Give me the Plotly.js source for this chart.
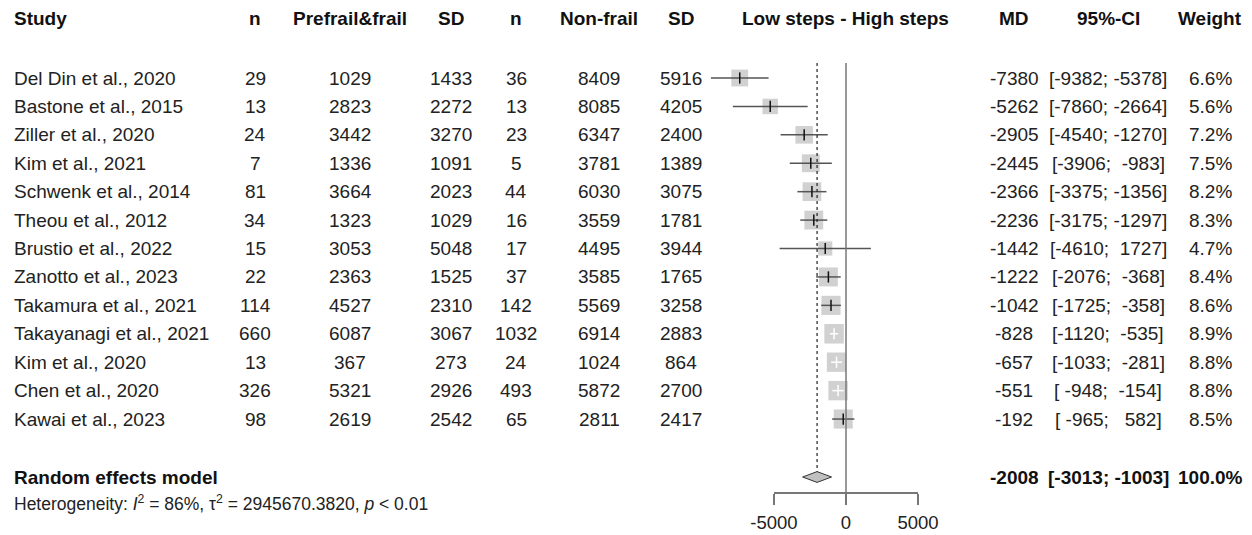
<!DOCTYPE html>
<html>
<head>
<meta charset="utf-8">
<script src="https://cdn.plot.ly/plotly-3.0.1.min.js"></script>
<style>html,body{margin:0;padding:0;background:#fff;}#chart{width:1252px;height:535px;}</style>
</head>
<body>
<div id="chart"></div>
<script>
// ---- data ----
const studies = ["Del Din et al., 2020","Bastone et al., 2015","Ziller et al., 2020","Kim et al., 2021","Schwenk et al., 2014","Theou et al., 2012","Brustio et al., 2022","Zanotto et al., 2023","Takamura et al., 2021","Takayanagi et al., 2021","Kim et al., 2020","Chen et al., 2020","Kawai et al., 2023"];
const nFrail    = [29,13,24,7,81,34,15,22,114,660,13,326,98];
const meanFrail = [1029,2823,3442,1336,3664,1323,3053,2363,4527,6087,367,5321,2619];
const sdFrail   = [1433,2272,3270,1091,2023,1029,5048,1525,2310,3067,273,2926,2542];
const nNon      = [36,13,23,5,44,16,17,37,142,1032,24,493,65];
const meanNon   = [8409,8085,6347,3781,6030,3559,4495,3585,5569,6914,1024,5872,2811];
const sdNon     = [5916,4205,2400,1389,3075,1781,3944,1765,3258,2883,864,2700,2417];
const md        = [-7380,-5262,-2905,-2445,-2366,-2236,-1442,-1222,-1042,-828,-657,-551,-192];
const ciLo      = [-9382,-7860,-4540,-3906,-3375,-3175,-4610,-2076,-1725,-1120,-1033,-948,-965];
const ciHi      = [-5378,-2664,-1270,-983,-1356,-1297,1727,-368,-358,-535,-281,-154,582];
const weight    = [6.6,5.6,7.2,7.5,8.2,8.3,4.7,8.4,8.6,8.9,8.8,8.8,8.5];
const pooledMD = -2008, pooledLo = -3013, pooledHi = -1003, pooledW = 100.0;
const heterogeneity = "Heterogeneity: <i>I</i><sup>2</sup> = 86%, \u03c4<sup>2</sup> = 2945670.3820, <i>p</i> &lt; 0.01";
const headers = ["Study","n","Prefrail&amp;frail","SD","n","Non-frail","SD","Low steps - High steps","MD","95%-CI","Weight"];
const axisTicks = [-5000, 0, 5000];
const axisTickText = ["-5000", "0", "5000"];

// ---- geometry ----
const W = 1252, H = 535;
const zeroPx = 846, pxPerUnit = 144/10000;
const firstRowPx = 78, rowPx = 28.42;
const yOf = p => (p - firstRowPx)/rowPx;
const headerRow = yOf(18), sumRow = yOf(477), hetRow = yOf(503), axisRow = yOf(492), topLine = yOf(63);
const rows = studies.map((_, i) => i);
const FONT = "Liberation Sans, Arial, Helvetica, sans-serif";
const fs = 19;

const colX = {study:12, n1:255, m1:350, s1:451, n2:516, m2:599, s2:681, forest:846, md:1014, ci:1108, w:1210};
const px = v => v / W;

const nb = "\u00a0";
const pad = (v, w) => { let s = String(v); while (s.length < w) s = nb + s; return s; };
const ciText = (lo, hi) => "[" + pad(lo,5) + ";" + nb + pad(hi,5) + "]";

// ---- annotations (table) ----
const ann = [];
const headerXs = [colX.study, colX.n1, colX.m1, colX.s1, colX.n2, colX.m2, colX.s2, colX.forest, colX.md, colX.ci, colX.w];
headers.forEach((h, k) => {
  ann.push({xref:'paper', yref:'y', x:px(headerXs[k]), y:headerRow, text:'<b>'+h+'</b>', showarrow:false,
    xanchor: k===0 ? 'left' : 'center', yanchor:'middle', font:{family:FONT, size:fs, color:'#111'}});
});
const cols = [
  [studies, colX.study, 'left'], [nFrail, colX.n1, 'center'], [meanFrail, colX.m1, 'center'], [sdFrail, colX.s1, 'center'],
  [nNon, colX.n2, 'center'], [meanNon, colX.m2, 'center'], [sdNon, colX.s2, 'center'], [md, colX.md, 'center'],
  [rows.map(i => ciText(ciLo[i], ciHi[i])), colX.ci, 'center'], [weight.map(w => w.toFixed(1) + '%'), colX.w, 'center']
];
cols.forEach(([arr, x, anchor]) => {
  arr.forEach((v, i) => ann.push({xref:'paper', yref:'y', x:px(x), y:rows[i], text:String(v), showarrow:false,
    xanchor:anchor, yanchor:'middle', font:{family:FONT, size:fs, color:'#222'}}));
});
[["Random effects model", colX.study, 'left'], [String(pooledMD), colX.md, 'center'],
 [ciText(pooledLo, pooledHi), colX.ci, 'center'], [pooledW.toFixed(1) + '%', colX.w, 'center']].forEach(([t, x, a]) => {
  ann.push({xref:'paper', yref:'y', x:px(x), y:sumRow, text:'<b>'+t+'</b>', showarrow:false, xanchor:a, yanchor:'middle',
    font:{family:FONT, size:fs, color:'#111'}});
});
ann.push({xref:'paper', yref:'y', x:px(colX.study), y:hetRow, text:heterogeneity, showarrow:false, xanchor:'left', yanchor:'middle',
  font:{family:FONT, size:17.5, color:'#222'}});

// ---- forest traces ----
const sqSize = weight.map(w => 19.5*Math.sqrt(w/8.9));
const isWhite = rows.map(i => (ciHi[i]-ciLo[i])*pxPerUnit < sqSize[i]);
function segs(sel) {
  const x = [], y = [];
  rows.forEach(i => { if (sel(i)) { x.push(ciLo[i], ciHi[i], null); y.push(i, i, null); } });
  return {x, y};
}
const dark = segs(i => !isWhite[i]), white = segs(i => isWhite[i]);
const traces = [
  {type:'scatter', mode:'markers', x:md, y:rows, xaxis:'x', yaxis:'y', hoverinfo:'skip',
   marker:{symbol:'square', size:sqSize, color:'#BEBEBE', line:{width:0}}},
  {type:'scatter', mode:'lines', x:dark.x, y:dark.y, xaxis:'x', yaxis:'y', hoverinfo:'skip', line:{color:'#555', width:1.5}},
  {type:'scatter', mode:'lines', x:white.x, y:white.y, xaxis:'x', yaxis:'y', hoverinfo:'skip', line:{color:'#fff', width:1.5}},
  {type:'scatter', mode:'markers', x:md, y:rows, xaxis:'x', yaxis:'y', hoverinfo:'skip',
   marker:{symbol:'line-ns', size:8, line:{width:1.5, color:rows.map(i => isWhite[i] ? '#fff' : '#111')}}},
  {type:'scatter', mode:'lines', x:[pooledLo, pooledMD, pooledHi, pooledMD, pooledLo],
   y:[sumRow, sumRow-0.19, sumRow, sumRow+0.19, sumRow], fill:'toself', fillcolor:'#C0C0C0',
   xaxis:'x2', yaxis:'y', hoverinfo:'skip', line:{color:'#333', width:1}}
];

const xLo = -zeroPx/pxPerUnit, xHi = (W - zeroPx)/pxPerUnit;
const d0 = (zeroPx + axisTicks[0]*pxPerUnit)/W, d1 = (zeroPx + axisTicks[2]*pxPerUnit)/W;

const layout = {
  width:W, height:H, margin:{l:0, r:0, t:0, b:0}, paper_bgcolor:'#fff', plot_bgcolor:'rgba(0,0,0,0)',
  showlegend:false, font:{family:FONT, color:'#222'},
  xaxis:{domain:[0,1], range:[xLo, xHi], visible:false, fixedrange:true},
  xaxis2:{domain:[d0, d1], range:[axisTicks[0], axisTicks[2]], anchor:'free', position:1 - 492/H,
    showline:true, linecolor:'#777', linewidth:1.5, ticks:'outside', ticklen:11, tickwidth:1.5, tickcolor:'#777',
    tickvals:axisTicks, ticktext:axisTickText, ticklabelstandoff:2, showgrid:false, zeroline:false,
    tickfont:{family:FONT, size:18.5, color:'#222'}, fixedrange:true},
  yaxis:{domain:[0,1], range:[yOf(H), yOf(0)], visible:false, fixedrange:true},
  shapes:[
    {type:'line', xref:'x', yref:'y', x0:0, x1:0, y0:topLine, y1:axisRow, line:{color:'#777', width:1.5}},
    {type:'line', xref:'x', yref:'y', x0:pooledMD, x1:pooledMD, y0:topLine, y1:sumRow-0.19, line:{color:'#222', width:1.2, dash:'dot'}}
  ],
  annotations:ann
};
Plotly.newPlot('chart', traces, layout, {staticPlot:true, displayModeBar:false});
</script>
</body>
</html>
